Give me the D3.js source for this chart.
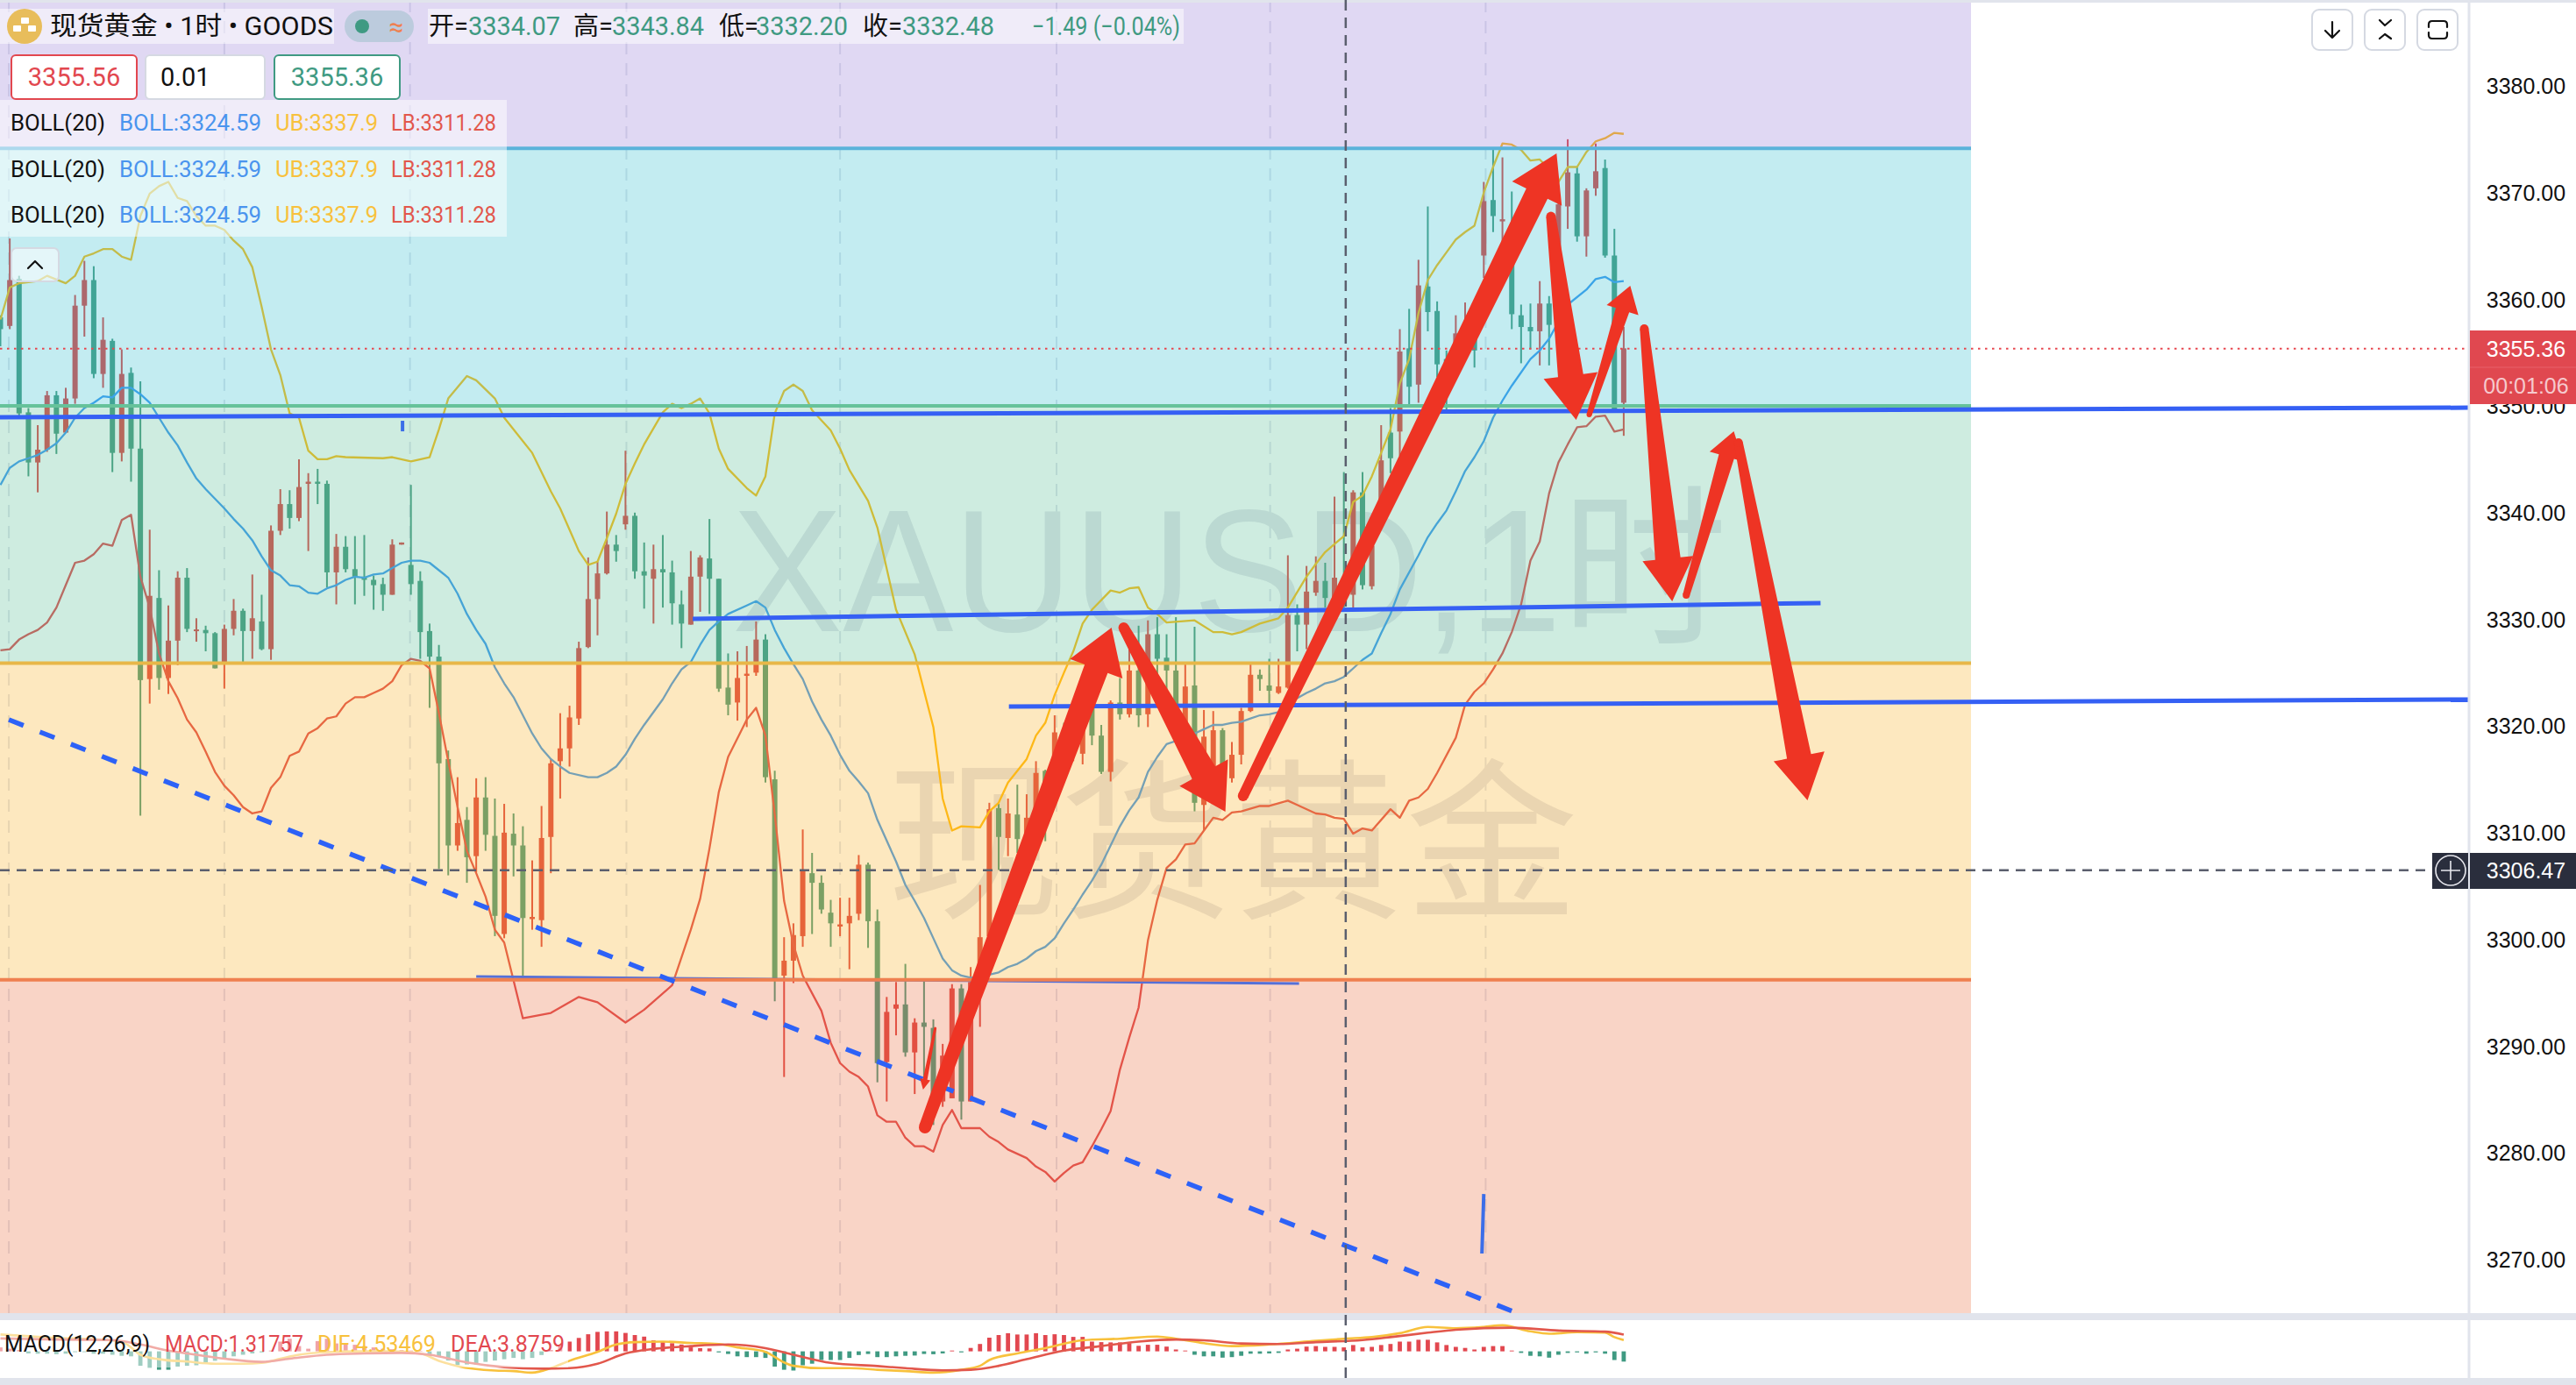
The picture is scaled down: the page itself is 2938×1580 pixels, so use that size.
<!DOCTYPE html>
<html><head><meta charset="utf-8">
<script src="https://cdnjs.cloudflare.com/ajax/libs/d3/7.8.5/d3.min.js"></script>
<style>html,body{margin:0;padding:0;background:#fff;overflow:hidden}svg{display:block}
text{font-family:Roboto,"Noto Sans CJK SC",sans-serif}</style></head><body><div id="c"></div>
<script>
// ---------- DATA ----------
const priceTicks=[3380,3370,3360,3350,3340,3330,3320,3310,3300,3290,3280,3270];
const lastPrice=3355.36, crossPrice=3306.47, crossIdx=144.2;
const bandEdges=[3393,3374.15,3350.0,3325.9,3296.2,3264.9];
const gridIdx=[0.9,24,43.9,67.1,90,113.2,136.1,159.2];
const opens=[3358.3,3357.5,3361.9,3349.4,3344.7,3345.9,3351.0,3347.5,3350.7,3359.4,
3361.8,3353.0,3356.1,3345.6,3353.1,3346.0,3324.4,3332.0,3324.5,3328.0,
3333.9,3328.9,3329.0,3328.7,3326.0,3329.1,3330.8,3328.9,3329.8,3327.2,
3338.3,3340.8,3339.5,3342.7,3342.9,3342.7,3334.4,3336.8,3334.7,3334.0,
3333.7,3333.3,3332.3,3337.0,3335.1,3333.6,3328.9,3326.5,3316.9,3308.8,
3311.2,3307.8,3313.3,3309.7,3300.5,3309.9,3308.8,3301.9,3301.8,3309.6,
3316.7,3317.9,3320.7,3327.4,3331.9,3334.3,3337.0,3338.9,3339.7,3334.5,
3333.8,3334.7,3334.4,3331.4,3329.5,3334.0,3335.7,3333.8,3323.6,3322.2,
3324.7,3325.0,3328.1,3315.0,3296.6,3298.0,3300.3,3306.2,3305.3,3302.5,
3301.2,3301.5,3302.4,3307.0,3301.7,3288.5,3293.5,3293.9,3289.4,3292.2,
3291.7,3284.8,3285.1,3295.4,3284.8,3296.3,3300.3,3312.3,3309.5,3311.7,
3308.8,3311.6,3315.8,3316.3,3319.4,3317.5,3317.4,3321.7,3319.1,3315.7,
3322.2,3321.1,3325.2,3321.1,3328.6,3326.4,3325.2,3320.1,3323.8,3312.6,
3315.7,3319.6,3315.1,3317.3,3321.4,3324.8,3323.8,3323.1,3323.6,3330.4,
3329.5,3332.5,3333.6,3331.9,3333.8,3332.3,3341.9,3333.1,3341.2,3347.5,
3347.6,3355.4,3352.0,3361.2,3358.9,3354.4,3354.4,3355.2,3357.6,3364.1,
3369.3,3367.3,3363.6,3358.5,3357.4,3357.0,3359.6,3364.5,3368.7,3371.8,
3365.9,3370.4,3372.3,3364.1,3350.3];
const closes=[3357.2,3361.8,3349.3,3344.7,3345.9,3351.0,3347.4,3350.7,3359.4,3361.8,
3353.0,3356.2,3345.6,3353.0,3346.0,3324.3,3332.2,3324.5,3328.0,3333.9,
3329.1,3329.05,3328.7,3325.4,3329.1,3330.8,3328.9,3330.1,3327.2,3338.3,
3340.8,3339.5,3342.4,3342.9,3342.7,3334.4,3336.8,3334.7,3334.0,3333.7,
3333.2,3332.3,3337.0,3337.2,3333.3,3328.8,3326.5,3316.5,3308.8,3310.9,
3307.7,3313.3,3309.8,3302.2,3310.0,3308.8,3302.0,3302.1,3309.5,3316.5,
3317.9,3320.8,3327.3,3331.9,3334.3,3337.0,3336.4,3339.7,3334.5,3334.1,
3334.7,3334.4,3331.5,3329.6,3334.0,3335.8,3333.8,3323.5,3322.0,3324.5,
3324.9,3328.1,3315.2,3296.2,3298.0,3300.4,3306.4,3305.3,3302.8,3301.5,
3301.4,3302.2,3307.0,3301.7,3288.4,3293.2,3293.9,3289.4,3292.2,3291.8,
3284.7,3289.1,3295.4,3284.8,3296.0,3300.2,3312.2,3309.6,3311.8,3309.4,
3311.4,3315.6,3311.6,3319.4,3317.4,3320.3,3320.1,3319.1,3315.7,3322.2,
3321.1,3325.2,3321.0,3328.6,3326.3,3325.2,3321.3,3323.7,3312.8,3319.0,
3319.6,3315.7,3317.3,3321.4,3324.8,3324.4,3323.3,3323.7,3330.4,3329.5,
3332.6,3333.6,3332.0,3333.9,3332.2,3341.9,3333.2,3336.9,3344.9,3345.1,
3355.1,3351.8,3361.3,3358.8,3353.9,3351.5,3356.8,3357.6,3355.2,3369.2,
3367.8,3367.5,3358.6,3357.4,3357.0,3359.6,3357.6,3368.9,3371.9,3365.9,
3370.2,3372.0,3364.1,3349.6,3355.4];
const highs=[3358.5,3365.7,3362.2,3349.8,3348.2,3351.4,3351.4,3351.7,3360.4,3363.6,
3363.1,3358.3,3356.3,3355.3,3353.6,3352.3,3338.4,3334.6,3331.3,3334.5,
3334.8,3330.1,3329.4,3328.8,3329.5,3331.9,3331.0,3334.2,3332.3,3338.8,
3342.2,3342.1,3345.0,3343.7,3344.1,3343.0,3338.0,3337.8,3337.8,3337.9,
3334.1,3333.9,3337.5,3337.2,3342.6,3334.5,3329.6,3327.6,3317.7,3315.2,
3312.4,3315.1,3315.2,3313.2,3312.7,3311.8,3310.6,3307.4,3312.5,3316.9,
3321.2,3321.9,3327.9,3335.8,3335.4,3340.1,3337.9,3345.8,3340.0,3337.2,
3337.0,3337.9,3335.5,3332.7,3336.4,3336.0,3339.4,3333.8,3326.8,3327.0,
3327.5,3329.8,3328.6,3315.8,3300.2,3301.5,3310.3,3308.1,3306.0,3303.7,
3303.9,3303.9,3307.9,3307.2,3302.8,3294.6,3296.0,3297.7,3292.6,3296.2,
3292.5,3290.2,3295.8,3295.8,3297.4,3305.1,3312.8,3312.7,3313.2,3314.5,
3313.6,3316.7,3315.9,3321.0,3320.3,3321.5,3321.1,3322.3,3320.1,3322.4,
3324.5,3327.2,3329.4,3329.9,3330.2,3328.6,3330.2,3325.8,3329.3,3321.5,
3321.4,3319.8,3318.5,3321.7,3325.8,3325.3,3326.3,3326.3,3336.0,3331.4,
3335.0,3335.9,3335.3,3341.5,3343.8,3342.1,3343.8,3338.8,3348.2,3349.8,
3357.2,3359.1,3363.7,3368.7,3359.8,3355.2,3358.5,3359.7,3358.5,3371.0,
3374.1,3373.3,3370.1,3359.5,3359.6,3361.7,3360.3,3370.4,3375.0,3372.4,
3370.4,3374.6,3373.1,3366.6,3357.4];
const lows=[3355.6,3357.2,3349.0,3343.4,3341.9,3345.7,3345.5,3347.5,3350.2,3356.5,
3352.6,3351.7,3343.8,3344.8,3342.9,3311.6,3322.1,3323.4,3323.0,3325.7,
3328.8,3327.9,3327.0,3325.4,3323.5,3328.5,3326.0,3326.3,3327.1,3326.2,
3337.9,3338.5,3339.2,3336.4,3340.8,3333.0,3331.4,3334.4,3331.4,3332.2,
3330.9,3330.8,3332.3,3337.0,3332.3,3326.3,3321.7,3306.6,3306.0,3308.3,
3305.3,3306.3,3308.3,3300.3,3300.1,3305.9,3296.4,3300.9,3299.3,3306.2,
3313.2,3316.2,3320.1,3327.3,3328.5,3334.2,3335.4,3338.4,3333.8,3331.0,
3329.6,3331.1,3329.5,3327.3,3329.5,3330.7,3330.5,3323.2,3321.0,3320.5,
3319.9,3324.7,3314.7,3294.2,3287.1,3295.9,3299.3,3300.5,3302.4,3299.3,
3300.3,3297.2,3301.8,3299.2,3286.6,3284.8,3291.0,3289.0,3285.5,3286.7,
3282.6,3284.3,3285.1,3283.1,3284.8,3291.8,3300.3,3306.5,3307.8,3308.1,
3308.1,3309.4,3309.2,3315.7,3316.6,3316.7,3316.4,3318.2,3315.5,3314.8,
3320.6,3320.8,3319.9,3319.9,3322.3,3322.6,3320.4,3319.0,3312.0,3310.2,
3315.2,3314.9,3314.7,3316.4,3321.3,3323.3,3322.1,3323.0,3323.5,3327.0,
3327.2,3332.2,3331.1,3330.5,3331.1,3331.1,3332.8,3332.8,3340.4,3343.7,
3345.3,3350.1,3350.3,3357.0,3352.7,3349.6,3353.5,3354.4,3353.6,3362.0,
3366.3,3364.5,3357.2,3354.0,3355.3,3353.8,3353.8,3364.2,3366.6,3365.4,
3364.0,3369.7,3363.9,3349.6,3347.2];
// Bollinger bands: [bar index, price] at each vertex that could be read
const bollUpper=[[0,3358.1],[1,3361.1],[2,3361.5],[4,3361.7],[5,3362.2],[7,3361.5],[8,3362.2],[9,3364.0],[10,3364.3],[11,3364.7],[12,3364.7],[13,3364.0],[14,3363.7],[15,3367.8],[16,3369.9],[17,3370.6],[18,3371.0],[19,3369.5],[20,3369.2],[21,3367.8],[22,3366.9],[23,3366.9],[24,3366.5],[25,3365.5],[26,3364.7],[27,3363.0],[28,3359.3],[29,3355.3],[30,3352.9],[31,3349.3],[32,3348.9],[33,3345.8],[34,3345.0],[35,3345.0],[36,3345.3],[37,3345.2],[41,3345.1],[42,3345.2],[44,3344.8],[46,3345.2],[47,3347.8],[48,3350.7],[50,3352.8],[51,3352.4],[53,3350.7],[54,3348.9],[57,3345.6],[59,3342.0],[60,3340.4],[61,3338.4],[62,3336.4],[63,3335.1],[64,3335.4],[65,3337.6],[66,3339.9],[67,3342.7],[68,3344.6],[69,3346.4],[71,3349.4],[72,3350.2],[73,3349.8],[74,3350.2],[75,3350.7],[76,3349.3],[77,3346.0],[78,3344.1],[80,3342.3],[81,3341.6],[82,3343.4],[83,3349.3],[84,3351.4],[85,3352.0],[86,3351.4],[87,3349.6],[89,3347.7],[90,3346.0],[91,3344.0],[93,3341.1],[94,3338.6],[96,3330.9],[98,3326.7],[100,3319.9],[101,3313.2],[102,3310.2],[103,3310.6],[105,3310.5],[106,3312.0],[107,3312.8],[108,3314.7],[110,3316.9],[111,3319.1],[112,3320.3],[113,3322.9],[114,3325.0],[115,3327.0],[116,3329.6],[117,3330.9],[119,3332.7],[120,3332.5],[121,3332.9],[122,3333.0],[123,3331.1],[124,3330.5],[125,3329.7],[128,3329.9],[130,3328.8],[131,3328.8],[132,3328.6],[133,3328.8],[135,3329.6],[137,3330.1],[138,3331.1],[140,3334.0],[141,3335.2],[142,3336.3],[144,3337.8],[145,3341.0],[146,3341.6],[147,3343.4],[148,3345.6],[149,3347.8],[150,3352.1],[151,3354.4],[152,3358.7],[153,3361.8],[154,3363.2],[155,3364.4],[156,3365.6],[157,3366.3],[158,3366.9],[159,3370.0],[160,3372.4],[161,3374.6],[162,3374.5],[163,3374.0],[164,3373.0],[165,3373.1],[166,3372.2],[167,3371.0],[168,3372.4],[169,3372.4],[170,3373.8],[171,3374.8],[172,3375.1],[173,3375.6],[174,3375.5]];
const bollMiddle=[[0,3342.6],[1,3344.2],[2,3344.8],[3,3345.1],[4,3345.4],[5,3345.9],[6,3346.5],[7,3347.5],[8,3348.9],[9,3349.8],[10,3350.3],[11,3350.9],[12,3350.8],[13,3351.7],[14,3351.7],[15,3351.1],[16,3350.3],[17,3348.9],[18,3347.5],[19,3346.3],[20,3344.7],[21,3343.2],[22,3342.2],[23,3341.3],[24,3340.4],[25,3339.4],[26,3338.5],[27,3337.4],[28,3335.9],[29,3334.6],[30,3334.1],[31,3333.2],[32,3333.1],[33,3332.5],[34,3332.4],[35,3332.9],[36,3333.2],[37,3333.7],[38,3334.0],[39,3333.9],[40,3334.2],[41,3334.3],[42,3334.8],[43,3335.3],[44,3335.5],[45,3335.5],[46,3335.3],[47,3334.6],[48,3333.9],[49,3332.4],[50,3330.5],[51,3329.0],[52,3327.7],[53,3325.5],[54,3324.0],[55,3322.7],[56,3321.0],[57,3319.3],[58,3317.9],[59,3316.9],[60,3316.2],[61,3315.6],[63,3315.2],[64,3315.2],[65,3315.6],[66,3316.2],[67,3317.3],[68,3318.8],[69,3320.1],[71,3322.5],[72,3324.0],[73,3325.3],[74,3326.0],[75,3327.6],[76,3329.0],[77,3329.8],[78,3330.5],[80,3331.3],[81,3331.7],[82,3331.1],[83,3329.0],[84,3327.3],[85,3325.8],[86,3324.4],[87,3322.3],[88,3320.6],[89,3319.1],[90,3317.3],[91,3315.8],[92,3314.8],[93,3313.7],[94,3311.2],[96,3307.3],[97,3305.1],[98,3303.6],[99,3302.0],[100,3300.1],[101,3298.2],[102,3297.1],[103,3296.6],[104,3296.4],[105,3296.5],[106,3296.7],[107,3296.9],[108,3297.4],[109,3297.7],[110,3298.2],[111,3298.9],[112,3299.3],[113,3300.1],[114,3301.5],[115,3302.8],[116,3304.2],[117,3305.5],[118,3307.0],[119,3308.8],[120,3310.6],[121,3312.1],[122,3313.3],[123,3315.7],[124,3317.1],[125,3318.3],[126,3318.6],[128,3319.3],[129,3319.7],[130,3320.1],[131,3320.1],[132,3320.3],[133,3320.4],[134,3320.7],[135,3321.0],[136,3321.1],[137,3321.3],[138,3322.1],[139,3322.6],[140,3323.1],[141,3323.5],[142,3324.0],[143,3324.2],[144,3324.6],[145,3325.4],[146,3326.2],[147,3326.8],[148,3328.7],[149,3330.5],[150,3332.8],[152,3336.0],[153,3337.7],[154,3339.0],[155,3340.2],[156,3342.0],[157,3343.9],[158,3345.2],[159,3346.7],[160,3348.9],[161,3350.5],[162,3351.9],[164,3354.4],[165,3355.2],[166,3356.3],[167,3357.9],[168,3359.5],[170,3360.9],[171,3361.9],[172,3362.1],[173,3361.6],[174,3361.7]];
const bollLower=[[0,3327.1],[1,3327.2],[2,3328.1],[3,3328.6],[4,3329.0],[5,3329.7],[6,3331.1],[7,3333.2],[8,3335.3],[9,3335.5],[10,3336.1],[11,3337.1],[12,3336.9],[13,3339.3],[14,3339.8],[15,3334.0],[16,3331.1],[17,3326.8],[18,3324.2],[19,3322.6],[20,3320.6],[21,3319.4],[22,3317.6],[23,3315.7],[24,3314.4],[25,3313.5],[26,3312.4],[27,3311.8],[28,3312.0],[29,3314.2],[30,3315.2],[31,3317.2],[32,3317.6],[33,3319.3],[34,3319.8],[35,3320.7],[36,3320.9],[37,3322.1],[38,3322.7],[39,3322.7],[40,3323.1],[41,3323.5],[42,3324.2],[43,3325.7],[44,3326.3],[45,3326.1],[46,3325.4],[47,3321.2],[48,3316.7],[49,3312.4],[50,3308.3],[51,3306.2],[52,3304.0],[53,3300.9],[54,3299.7],[56,3292.6],[59,3293.1],[62,3294.6],[64,3294.1],[67,3292.2],[69,3293.4],[72,3295.7],[74,3300.9],[75,3303.8],[76,3308.5],[77,3313.8],[78,3317.1],[80,3320.6],[81,3321.7],[82,3319.1],[83,3311.7],[84,3303.6],[85,3299.5],[86,3296.6],[88,3293.3],[89,3290.3],[90,3288.4],[91,3287.6],[92,3287.1],[93,3286.2],[94,3283.5],[95,3282.9],[96,3282.9],[97,3281.4],[98,3280.6],[99,3280.6],[100,3280.1],[101,3282.6],[102,3284.0],[103,3282.3],[105,3282.3],[106,3281.5],[107,3281.0],[108,3280.3],[110,3279.5],[111,3278.7],[112,3278.2],[113,3277.3],[114,3278.1],[115,3278.8],[116,3279.1],[117,3280.6],[118,3282.2],[119,3283.9],[120,3287.8],[121,3290.8],[122,3293.6],[123,3299.9],[124,3303.7],[125,3306.7],[126,3307.5],[127,3308.9],[128,3309.0],[129,3310.2],[130,3311.4],[131,3311.2],[132,3311.9],[133,3312.0],[135,3312.5],[136,3312.5],[138,3313.0],[139,3312.6],[141,3311.8],[142,3311.7],[143,3311.4],[144,3311.3],[145,3309.9],[146,3310.4],[147,3310.2],[149,3312.2],[150,3311.4],[151,3313.0],[152,3313.3],[153,3314.1],[154,3315.6],[156,3318.9],[157,3322.0],[158,3323.2],[159,3324.0],[160,3325.3],[161,3326.8],[162,3328.8],[163,3331.4],[164,3335.5],[165,3337.3],[166,3341.8],[167,3344.7],[168,3346.4],[169,3348.0],[170,3348.1],[171,3349.0],[172,3349.1],[173,3347.6],[174,3347.8]];
// MACD pane
const macdHist=[1.5,1,0.5,-0.8,-0.9,-0.9,-1.1,-0.9,-0.3,-0.3,-0.9,-0.9,-1.3,-1.7,-1.9,-5.5,-6.2,-7,-7,-5.8,
-5.5,-5.3,-4.7,-3.6,-2.5,-1.9,-1.3,-0.8,-0.4,0.3,3.7,4.8,2,1,3.9,4.8,3,3,2.5,2,
1.5,1,0.8,0.5,0.3,0.2,-1.9,-2,-3.5,-5.2,-5,-5,-4,-3.5,-3,-2.5,-3,-2.5,-1.4,0.5,
2.5,3.7,5.1,6.5,7.4,7.6,7.6,7,6.2,5.6,4.2,3.7,3.1,2.6,1.5,1.2,1.1,-0.4,-1,-1.9,
-2.2,-2.2,-2.5,-5.8,-7,-7.3,-5.3,-4.7,-3.3,-3.3,-3.3,-2.5,-1.4,-1,-2.2,-2.2,-1.9,-1.7,-1.6,-1,
-1.1,-0.8,0.3,-0.4,1.3,2.8,5.2,6.2,6.9,6.4,6.4,6.9,6.2,6.5,6.2,5.5,5.5,3.7,3.5,3.4,
3.4,3.1,2.1,2.5,2.5,1.8,0.7,0.3,-1.3,-1.9,-1.9,-2.4,-2.2,-1.7,-0.9,-0.9,-0.8,-0.6,0.7,1,
1.8,2,1.7,1.7,1.5,2.4,1.5,1.7,2.4,2.8,3.7,3.7,4.4,4.4,3.4,2.4,1.7,1.3,0.7,1.7,
2,2,0.3,-0.6,-1.7,-1.9,-2.4,-1.3,-0.6,-0.4,-0.9,-0.4,-0.9,-3.3,-3.9];
const macdDif=[[0,6.4],[2,6],[6,5.1],[10,4.6],[13,3.7],[14,1.5],[15,-1.3],[17,-3],[20,-3.9],[23,-4.7],[26,-4.7],[28,-4.4],[30,-2.8],[32,-1.3],[35,-0.3],[38,0],[42,0],[45,-0.8],[47,-3.6],[49,-5.6],[53,-7.3],[55,-7.5],[57,-8.1],[59,-6.4],[61,-3.6],[64,-0.2],[66,2.6],[68,3.5],[71,3.7],[74,3.2],[77,2.8],[79,1.5],[82,-0.2],[84,-4.2],[85,-5.5],[88,-6.4],[91,-6.4],[94,-7],[97,-7.5],[100,-8.1],[103,-7],[105,-5.5],[106,-3.3],[109,-0.8],[112,1.2],[116,4.2],[120,4.8],[124,5.6],[126,4.8],[129,3.1],[132,2],[136,2.6],[141,4],[144,4.8],[147,5.4],[150,6.9],[153,9.3],[156,8.8],[159,9.3],[161,9.9],[164,7.6],[166,6.7],[169,7.3],[172,7.1],[173,5.4],[174,4.3]];
const macdDea=[[0,4.9],[6,4.5],[12,4.3],[15,2.6],[18,0.3],[21,-1.3],[24,-2.8],[28,-4],[31,-2.8],[35,-1.3],[39,-0.8],[43,-0.6],[46,-1.3],[50,-4.2],[54,-6],[58,-6.6],[61,-6.4],[64,-4.7],[67,-0.8],[70,0.9],[74,2],[78,2.6],[82,1.2],[85,-1.3],[89,-4.4],[94,-5.6],[97,-6.4],[101,-7.2],[104,-7],[107,-5.5],[110,-3],[114,0.3],[118,2],[122,3.7],[126,4.5],[129,4.2],[133,3],[137,2.8],[141,3.5],[146,4.3],[149,5.4],[153,7.1],[156,8.2],[162,9],[167,7.9],[172,7.5],[174,6.4]];
// Hand-drawn trend lines: [bar, price] -> [bar, price]
const trendLines=[[[-0.05,3348.94],[264.6,3349.84]],[[74.2,3330.04],[195.1,3331.52]],[[108.1,3321.82],[264.6,3322.48]]];
const supportLine=[[51,3296.51],[139.2,3295.85]];
const dashedTrend=[[0.9,3320.59],[162.6,3264.96]];
const shortMarks=[[[159,3276.13],[158.8,3270.55]],[[43.1,3348.61],[43.1,3347.62]]];
// Hand-drawn arrows: start and tip as [bar, price]
const arrowStarts=[[99.1,3282.38],[120.4,3329.22],[133.2,3313.44],[166.2,3367.75],[170.3,3349.18],[176.2,3357.24],[180.7,3332.26],[186.3,3346.55],[100.2,3291.66]];
const arrowTips=[[119.1,3329.22],[131.3,3311.96],[166.8,3373.67],[168.9,3348.69],[174.7,3361.26],[179.2,3331.68],[185.8,3347.62],[193.7,3313.03],[98.9,3285.91]];
const legendRow=[["BOLL(20)","#111",12,108],["BOLL:3324.59","#4a94ee",136,162],["UB:3337.9","#f8c13c",314,117],["LB:3311.28","#e2574c",446,120]];
const macdLegend=[["MACD(12,26,9)","#111",5,166],["MACD:1.31757","#e2474f",188,158],["DIF:4.53469","#f8c13c",362,135],["DEA:3.8759","#e2474f",514,130]];
const ohlcLegend=[["开=","#111",489,0],["3334.07","#3f9a82",534,105],["高=","#111",654,0],["3343.84","#3f9a82",698,105],["低=","#111",820,0],["3332.20","#3f9a82",862,105],["收=","#111",984,0],["3332.48","#3f9a82",1029,105],["−1.49 (−0.04%)","#3f9a82",1177,169]];
// ---------- LAYOUT ----------
const W=2938,H=1580,plotR=2248,axisX=2816,chartB=1498;
const UP="#e04f4f",DOWN="#529f86";
const x=d3.scaleLinear().domain([0,174]).range([0.5,1851.9]);
const y=d3.scaleLinear().domain([3380,3270]).range([98,1436.7]);
const macdY=d3.scaleLinear().domain([0,1]).range([1541.6,1538.6]);
const svg=d3.select("#c").append("svg").attr("width",W).attr("height",H).attr("viewBox",`0 0 ${W} ${H}`);
svg.append("rect").attr("width",W).attr("height",H).attr("fill","#fff");
const defs=svg.append("defs");
defs.append("clipPath").attr("id","main").append("rect").attr("width",axisX).attr("height",chartB);
const main=svg.append("g").attr("clip-path","url(#main)");
// gridlines
main.append("g").selectAll("line").data(gridIdx).join("line")
 .attr("x1",d=>x(d)).attr("x2",d=>x(d)).attr("y1",0).attr("y2",chartB)
 .attr("stroke","#e2e5ec").attr("stroke-width",2).attr("stroke-dasharray","14 10");
// watermarks
main.append("text").text("XAUUSD,1时").attr("x",835).attr("y",720).attr("font-size",198)
 .attr("textLength",1135).attr("lengthAdjust","spacingAndGlyphs")
 .style("font-family",'"Liberation Sans","Noto Sans CJK SC"').attr("fill","#e6e6ec");
main.append("text").text("现货黄金").attr("x",1012).attr("y",1032).attr("font-size",197)
 .style("font-family",'"Noto Sans CJK SC"').attr("fill","#e6e6ec");
// candles
const idx=d3.range(opens.length);
const color=i=>closes[i]>=opens[i]?UP:DOWN;
main.append("g").selectAll("line").data(idx).join("line")
 .attr("x1",x).attr("x2",x).attr("y1",i=>y(highs[i])).attr("y2",i=>y(lows[i]))
 .attr("stroke",color).attr("stroke-width",2);
main.append("g").selectAll("rect").data(idx).join("rect")
 .attr("x",i=>x(i)-3).attr("width",6)
 .attr("y",i=>y(Math.max(opens[i],closes[i])))
 .attr("height",i=>Math.max(2,Math.abs(y(opens[i])-y(closes[i])))).attr("fill",color);
// bollinger
const ln=d3.line().x(d=>x(d[0])).y(d=>y(d[1]));
[[bollUpper,"#ffbf21"],[bollMiddle,"#4a9ff2"],[bollLower,"#e25458"]].forEach(([d,c])=>
 main.append("path").attr("d",ln(d)).attr("fill","none").attr("stroke",c).attr("stroke-width",2.3).attr("stroke-linejoin","round"));
// translucent zones over the candles
const bandFill=["rgb(131,99,207)","rgb(15,179,199)","rgb(61,178,130)","rgb(248,163,0)","rgb(231,83,27)"];
const bandLine=["#5bb3da","#66c29a","#e8b748","#ef8050"];
main.append("g").selectAll("rect").data(bandFill).join("rect")
 .attr("x",0).attr("width",plotR).attr("y",(d,i)=>y(bandEdges[i])).attr("height",(d,i)=>y(bandEdges[i+1])-y(bandEdges[i]))
 .attr("fill",d=>d).attr("fill-opacity",.25);
// support line below the zone edge
main.append("path").attr("d",ln(supportLine)).attr("stroke","#5570d8").attr("stroke-width",3).attr("fill","none");
main.append("g").selectAll("line").data(bandLine).join("line")
 .attr("x1",0).attr("x2",plotR).attr("y1",(d,i)=>y(bandEdges[i+1])).attr("y2",(d,i)=>y(bandEdges[i+1]))
 .attr("stroke",d=>d).attr("stroke-width",4);
// last price, crosshair
main.append("line").attr("x1",0).attr("x2",axisX).attr("y1",y(lastPrice)).attr("y2",y(lastPrice))
 .attr("stroke","#e8474f").attr("stroke-width",2).attr("stroke-dasharray","2.5 5.5");
// dashed trend + short marks + trend lines
main.append("path").attr("d",ln(dashedTrend)).attr("fill","none").attr("stroke","#2d62f7").attr("stroke-width",5.5).attr("stroke-dasharray","18 20");
main.append("g").selectAll("path").data(shortMarks).join("path").attr("d",ln).attr("fill","none").attr("stroke","#3c6ee8").attr("stroke-width",4);
main.append("g").selectAll("path").data(trendLines).join("path").attr("d",ln).attr("fill","none").attr("stroke","#3560f4").attr("stroke-width",5);
svg.append("line").attr("x1",0).attr("x2",2774).attr("y1",y(crossPrice)).attr("y2",y(crossPrice))
 .attr("stroke","#5b5f6e").attr("stroke-width",2.5).attr("stroke-dasharray","11 8");
// gray separators
svg.append("rect").attr("width",W).attr("height",3).attr("fill","#e1e4ec");
svg.append("rect").attr("y",chartB).attr("width",W).attr("height",8).attr("fill","#e1e4ec");
svg.append("rect").attr("y",1572).attr("width",W).attr("height",8).attr("fill","#e1e4ec");
svg.append("rect").attr("x",axisX-1.5).attr("width",3).attr("height",H).attr("fill","#e1e4ec");
// MACD pane
const macd=svg.append("g");
macd.selectAll("rect").data(macdHist).join("rect")
 .attr("x",(d,i)=>x(i)-2.4).attr("width",4.8)
 .attr("y",d=>Math.min(macdY(d),macdY(0))).attr("height",d=>Math.abs(macdY(d)-macdY(0)))
 .attr("fill",d=>d>=0?"#e2474f":"#3f9a82");
const mln=d3.line().x(d=>x(d[0])).y(d=>macdY(d[1])).curve(d3.curveMonotoneX);
macd.append("path").attr("d",mln(macdDif)).attr("fill","none").attr("stroke","#f8c13c").attr("stroke-width",2.6);
macd.append("path").attr("d",mln(macdDea)).attr("fill","none").attr("stroke","#e2574c").attr("stroke-width",2.6);
// vertical crosshair
svg.append("line").attr("x1",x(crossIdx)).attr("x2",x(crossIdx)).attr("y1",0).attr("y2",H)
 .attr("stroke","#5b5f6e").attr("stroke-width",2.5).attr("stroke-dasharray","12 8");
// arrows
const arrowStyle=[[14,28,50,64],[12,30,51,63],[12,27,51,63],[11,29,51,62],[6,16,29,38],[10,29,49,58],[8,18,30,40],[10,28,51,59],[3,5,12,12]];
const arrows=svg.append("g");
arrowStarts.forEach((s,i)=>{
 const [sw,nw,hl,hw]=arrowStyle[i];
 const sx=x(s[0]),sy=y(s[1]),tx=x(arrowTips[i][0]),ty=y(arrowTips[i][1]);
 const L=Math.hypot(tx-sx,ty-sy),ux=(tx-sx)/L,uy=(ty-sy)/L,nx=-uy,ny=ux;
 const bx=tx-ux*hl,by=ty-uy*hl;
 const pts=[[sx+nx*sw/2,sy+ny*sw/2],[bx+nx*nw/2,by+ny*nw/2],[bx+nx*hw/2,by+ny*hw/2],[tx,ty],[bx-nx*hw/2,by-ny*hw/2],[bx-nx*nw/2,by-ny*nw/2],[sx-nx*sw/2,sy-ny*sw/2]];
 arrows.append("path").attr("d","M"+pts.map(p=>p.join(",")).join("L")+"Z").attr("fill","#ee3424");
 arrows.append("circle").attr("cx",sx).attr("cy",sy).attr("r",sw/2).attr("fill","#ee3424");
});
// price axis
const ax=svg.append("g").attr("transform",`translate(${axisX},0)`)
 .call(d3.axisRight(y).tickValues(priceTicks).tickSize(0).tickFormat(d3.format(".2f")));
ax.select(".domain").remove();
ax.selectAll("text").attr("x",65).attr("text-anchor","middle").attr("font-size",25).attr("fill","#111")
 .style("font-family",'"Liberation Sans"').attr("dy",".35em");
// price tags
svg.append("rect").attr("x",axisX+1).attr("y",377).attr("width",W-axisX).attr("height",84).attr("fill","#e04850");
svg.append("line").attr("x1",axisX+1).attr("x2",W).attr("y1",419).attr("y2",419).attr("stroke","#e8606a").attr("stroke-width",1);
const tagT=(t,cx,cy,c)=>svg.append("text").text(t).attr("x",cx).attr("y",cy).attr("text-anchor","middle").attr("dy",".35em")
 .attr("font-size",25).attr("fill",c).style("font-family",'"Liberation Sans"');
tagT(d3.format(".2f")(lastPrice),2881,398,"#fff");
tagT("00:01:06",2881,440,"#f6c9cd");
svg.append("rect").attr("x",2774).attr("y",973).attr("width",41).attr("height",41).attr("fill","#2a2e3d");
svg.append("rect").attr("x",axisX+1).attr("y",973).attr("width",W-axisX).attr("height",41).attr("fill","#2a2e3d");
svg.append("circle").attr("cx",2795).attr("cy",993).attr("r",17).attr("fill","none").attr("stroke","#e8e8ee").attr("stroke-width",1.6);
svg.append("path").attr("d","M2784,993H2806M2795,982V1004").attr("stroke","#e8e8ee").attr("stroke-width",1.6);
tagT(d3.format(".2f")(crossPrice),2881,993,"#fff");
// top-right buttons
[2637,2697,2757].forEach(bx=>svg.append("rect").attr("x",bx).attr("y",11).attr("width",46).attr("height",46).attr("rx",8)
 .attr("fill","#fff").attr("stroke","#d5d9e2").attr("stroke-width",2));
const icon=d=>svg.append("path").attr("d",d).attr("fill","none").attr("stroke","#111").attr("stroke-width",2.2).attr("stroke-linecap","round").attr("stroke-linejoin","round");
icon("M2660,25V43M2652,35L2660,43L2668,35");
icon("M2714,23L2720,29L2727,23M2714,44L2720,39L2727,44");
icon("M2770,31V28Q2770,24 2774,24H2787Q2791,24 2791,28V31M2770,37V40Q2770,44 2774,44H2787Q2791,44 2791,40V37");
// header
const label=(x0,y0,w,h)=>svg.append("rect").attr("x",x0).attr("y",y0).attr("width",w).attr("height",h).attr("fill","#fff").attr("fill-opacity",.5);
label(0,10,381,40); label(488,10,862,40); label(0,114,578,156);
svg.append("circle").attr("cx",28).attr("cy",30).attr("r",20).attr("fill","#e8bd5b");
[[24,20],[15,29],[32,29]].forEach(p=>svg.append("rect").attr("x",p[0]).attr("y",p[1]).attr("width",9).attr("height",7).attr("rx",1).attr("fill","#fff"));
const txt=(t,tx,ty,c,fs,anchor,len)=>{const s=svg.append("text").text(t).attr("x",tx).attr("y",ty).attr("dy",".35em").attr("fill",c).attr("font-size",fs).attr("text-anchor",anchor||"start");
 if(len)s.attr("textLength",len).attr("lengthAdjust","spacingAndGlyphs");return s;};
txt("现货黄金 • 1时 • GOODS",57,30,"#111",29,"start",323);
svg.append("rect").attr("x",393).attr("y",12).attr("width",79).attr("height",36).attr("rx",18).attr("fill","#bccbdd");
svg.append("circle").attr("cx",413).attr("cy",30).attr("r",8).attr("fill","#3f9a82");
txt("≈",452,30,"#ef8050",30,"middle");
ohlcLegend.forEach(d=>txt(d[0],d[2],30,d[1],29,"start",d[3]));
[[13,143,"#e2474f"],[166,136,"#d5d9e2"],[313,143,"#3f9a82"]].forEach(b=>svg.append("rect").attr("x",b[0]).attr("y",63).attr("width",b[1]).attr("height",50).attr("rx",5)
 .attr("fill","#fff").attr("stroke",b[2]).attr("stroke-width",2));
txt("3355.56",84.5,88,"#e2474f",29,"middle");
txt("0.01",183,88,"#111",29);
txt("3355.36",384.5,88,"#3f9a82",29,"middle");
[140,193,245].forEach(r=>legendRow.forEach(d=>txt(d[0],d[2],r,d[1],26,"start",d[3])));
svg.append("rect").attr("x",13).attr("y",283).attr("width",54).attr("height",38).attr("rx",6).attr("fill","#fff").attr("fill-opacity",.55).attr("stroke","#d5d9e2").attr("stroke-width",2);
icon("M32,306L40,298L48,306");
label(0,1506,648,54);
macdLegend.forEach(d=>txt(d[0],d[2],1533,d[1],26,"start",d[3]));
</script></body></html>
